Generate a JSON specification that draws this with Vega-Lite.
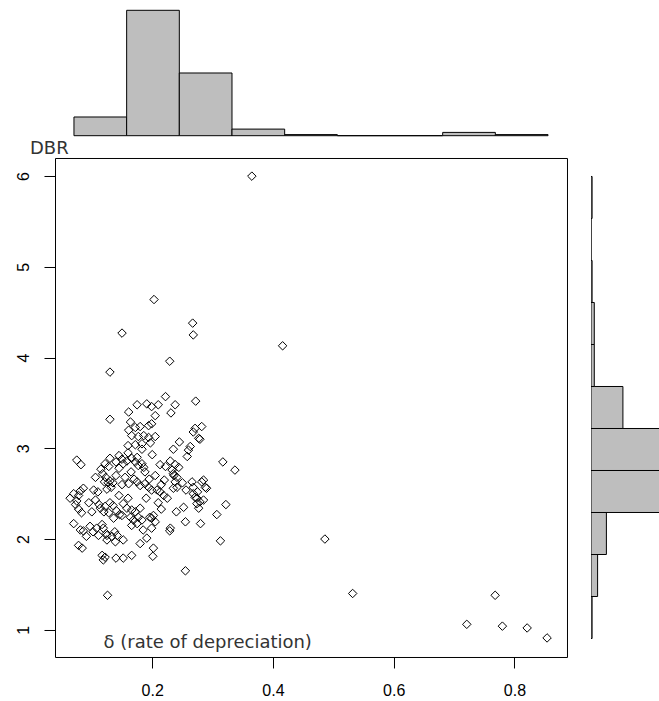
{
  "$schema": "https://vega.github.io/schema/vega-lite/v6.json",
  "padding": {"left": 14, "top": 3.7, "right": 0, "bottom": 0},
  "background": "white",
  "columns": 2,
  "spacing": {"row": 22.3, "column": 24},
  "bounds": "flush",
  "datasets": {
    "hx": [
      {"lo": 0.0, "hi": 0.1, "n": 17},
      {"lo": 0.1, "hi": 0.2, "n": 114},
      {"lo": 0.2, "hi": 0.3, "n": 57},
      {"lo": 0.3, "hi": 0.4, "n": 6},
      {"lo": 0.4, "hi": 0.5, "n": 1},
      {"lo": 0.5, "hi": 0.6, "n": 0},
      {"lo": 0.6, "hi": 0.7, "n": 0},
      {"lo": 0.7, "hi": 0.8, "n": 3},
      {"lo": 0.8, "hi": 0.9, "n": 1}
    ],
    "hy": [
      {"lo": 0.5, "hi": 1.0, "n": 1},
      {"lo": 1.0, "hi": 1.5, "n": 6},
      {"lo": 1.5, "hi": 2.0, "n": 14},
      {"lo": 2.0, "hi": 2.5, "n": 72},
      {"lo": 2.5, "hi": 3.0, "n": 70},
      {"lo": 3.0, "hi": 3.5, "n": 29},
      {"lo": 3.5, "hi": 4.0, "n": 3},
      {"lo": 4.0, "hi": 4.5, "n": 3},
      {"lo": 4.5, "hi": 5.0, "n": 1},
      {"lo": 5.0, "hi": 5.5, "n": 0},
      {"lo": 5.5, "hi": 6.0, "n": 1}
    ],
    "pts": [
      {"delta": 0.365, "DBR": 6.00}, {"delta": 0.203, "DBR": 4.64}, {"delta": 0.267, "DBR": 4.38}, {"delta": 0.268, "DBR": 4.25},
      {"delta": 0.150, "DBR": 4.27}, {"delta": 0.416, "DBR": 4.13}, {"delta": 0.229, "DBR": 3.96}, {"delta": 0.130, "DBR": 3.84},
      {"delta": 0.222, "DBR": 3.57}, {"delta": 0.272, "DBR": 3.52}, {"delta": 0.486, "DBR": 2.00}, {"delta": 0.532, "DBR": 1.40},
      {"delta": 0.721, "DBR": 1.06}, {"delta": 0.768, "DBR": 1.38}, {"delta": 0.780, "DBR": 1.04}, {"delta": 0.821, "DBR": 1.02},
      {"delta": 0.854, "DBR": 0.91}, {"delta": 0.126, "DBR": 1.38}, {"delta": 0.255, "DBR": 1.65},
      {"delta": 0.175, "DBR": 3.48}, {"delta": 0.191, "DBR": 3.49}, {"delta": 0.199, "DBR": 3.46}, {"delta": 0.210, "DBR": 3.48},
      {"delta": 0.238, "DBR": 3.48}, {"delta": 0.161, "DBR": 3.40}, {"delta": 0.205, "DBR": 3.36}, {"delta": 0.231, "DBR": 3.39},
      {"delta": 0.130, "DBR": 3.32}, {"delta": 0.164, "DBR": 3.29}, {"delta": 0.172, "DBR": 3.23}, {"delta": 0.180, "DBR": 3.24},
      {"delta": 0.194, "DBR": 3.25}, {"delta": 0.199, "DBR": 3.27}, {"delta": 0.161, "DBR": 3.20}, {"delta": 0.271, "DBR": 3.22},
      {"delta": 0.282, "DBR": 3.24}, {"delta": 0.268, "DBR": 3.18}, {"delta": 0.166, "DBR": 3.14}, {"delta": 0.177, "DBR": 3.13},
      {"delta": 0.186, "DBR": 3.14}, {"delta": 0.194, "DBR": 3.12}, {"delta": 0.205, "DBR": 3.13}, {"delta": 0.277, "DBR": 3.11},
      {"delta": 0.279, "DBR": 3.10}, {"delta": 0.245, "DBR": 3.07}, {"delta": 0.160, "DBR": 3.03}, {"delta": 0.172, "DBR": 3.04},
      {"delta": 0.183, "DBR": 3.05}, {"delta": 0.197, "DBR": 3.06}, {"delta": 0.263, "DBR": 3.02},
      {"delta": 0.235, "DBR": 2.99}, {"delta": 0.260, "DBR": 2.98}, {"delta": 0.258, "DBR": 2.91}, {"delta": 0.183, "DBR": 2.99},
      {"delta": 0.075, "DBR": 2.87}, {"delta": 0.082, "DBR": 2.82}, {"delta": 0.130, "DBR": 2.89}, {"delta": 0.122, "DBR": 2.83},
      {"delta": 0.150, "DBR": 2.88}, {"delta": 0.152, "DBR": 2.83}, {"delta": 0.158, "DBR": 2.86}, {"delta": 0.166, "DBR": 2.89},
      {"delta": 0.172, "DBR": 2.85}, {"delta": 0.177, "DBR": 2.81}, {"delta": 0.183, "DBR": 2.83}, {"delta": 0.175, "DBR": 2.90},
      {"delta": 0.188, "DBR": 2.74}, {"delta": 0.186, "DBR": 2.79}, {"delta": 0.213, "DBR": 2.82}, {"delta": 0.222, "DBR": 2.80},
      {"delta": 0.230, "DBR": 2.86}, {"delta": 0.238, "DBR": 2.82}, {"delta": 0.244, "DBR": 2.79}, {"delta": 0.235, "DBR": 2.72},
      {"delta": 0.241, "DBR": 2.68}, {"delta": 0.317, "DBR": 2.85}, {"delta": 0.337, "DBR": 2.76}, {"delta": 0.233, "DBR": 2.76},
      {"delta": 0.236, "DBR": 2.70}, {"delta": 0.106, "DBR": 2.68}, {"delta": 0.118, "DBR": 2.72}, {"delta": 0.123, "DBR": 2.68},
      {"delta": 0.130, "DBR": 2.64}, {"delta": 0.127, "DBR": 2.62}, {"delta": 0.132, "DBR": 2.57}, {"delta": 0.121, "DBR": 2.63},
      {"delta": 0.135, "DBR": 2.62}, {"delta": 0.155, "DBR": 2.68}, {"delta": 0.161, "DBR": 2.61}, {"delta": 0.175, "DBR": 2.63},
      {"delta": 0.180, "DBR": 2.59}, {"delta": 0.188, "DBR": 2.61}, {"delta": 0.194, "DBR": 2.57}, {"delta": 0.199, "DBR": 2.54},
      {"delta": 0.208, "DBR": 2.54}, {"delta": 0.213, "DBR": 2.52}, {"delta": 0.238, "DBR": 2.63}, {"delta": 0.235, "DBR": 2.56},
      {"delta": 0.241, "DBR": 2.57}, {"delta": 0.256, "DBR": 2.54}, {"delta": 0.266, "DBR": 2.63}, {"delta": 0.268, "DBR": 2.57},
      {"delta": 0.282, "DBR": 2.63}, {"delta": 0.288, "DBR": 2.57}, {"delta": 0.290, "DBR": 2.56}, {"delta": 0.285, "DBR": 2.65},
      {"delta": 0.086, "DBR": 2.56}, {"delta": 0.081, "DBR": 2.53}, {"delta": 0.103, "DBR": 2.54}, {"delta": 0.125, "DBR": 2.55},
      {"delta": 0.140, "DBR": 2.70}, {"delta": 0.145, "DBR": 2.78}, {"delta": 0.165, "DBR": 2.74}, {"delta": 0.170, "DBR": 2.66},
      {"delta": 0.195, "DBR": 2.66}, {"delta": 0.205, "DBR": 2.70}, {"delta": 0.215, "DBR": 2.60}, {"delta": 0.150, "DBR": 2.60},
      {"delta": 0.115, "DBR": 2.77}, {"delta": 0.128, "DBR": 2.80}, {"delta": 0.140, "DBR": 2.85}, {"delta": 0.160, "DBR": 2.95},
      {"delta": 0.200, "DBR": 2.93}, {"delta": 0.145, "DBR": 2.92}, {"delta": 0.220, "DBR": 2.65}, {"delta": 0.250, "DBR": 2.62},
      {"delta": 0.275, "DBR": 2.52}, {"delta": 0.110, "DBR": 2.52},
      {"delta": 0.219, "DBR": 2.48}, {"delta": 0.268, "DBR": 2.50}, {"delta": 0.274, "DBR": 2.45}, {"delta": 0.279, "DBR": 2.41},
      {"delta": 0.285, "DBR": 2.43}, {"delta": 0.064, "DBR": 2.45}, {"delta": 0.070, "DBR": 2.50}, {"delta": 0.075, "DBR": 2.42},
      {"delta": 0.078, "DBR": 2.48}, {"delta": 0.073, "DBR": 2.38}, {"delta": 0.078, "DBR": 2.33}, {"delta": 0.083, "DBR": 2.29},
      {"delta": 0.106, "DBR": 2.43}, {"delta": 0.112, "DBR": 2.38}, {"delta": 0.114, "DBR": 2.34}, {"delta": 0.122, "DBR": 2.36},
      {"delta": 0.120, "DBR": 2.30}, {"delta": 0.128, "DBR": 2.29}, {"delta": 0.130, "DBR": 2.40}, {"delta": 0.135, "DBR": 2.37},
      {"delta": 0.141, "DBR": 2.31}, {"delta": 0.146, "DBR": 2.27}, {"delta": 0.152, "DBR": 2.39}, {"delta": 0.158, "DBR": 2.34},
      {"delta": 0.166, "DBR": 2.32}, {"delta": 0.172, "DBR": 2.30}, {"delta": 0.177, "DBR": 2.24}, {"delta": 0.183, "DBR": 2.21},
      {"delta": 0.164, "DBR": 2.24}, {"delta": 0.169, "DBR": 2.21}, {"delta": 0.175, "DBR": 2.17}, {"delta": 0.166, "DBR": 2.15},
      {"delta": 0.180, "DBR": 2.34}, {"delta": 0.199, "DBR": 2.23}, {"delta": 0.205, "DBR": 2.19}, {"delta": 0.230, "DBR": 2.12},
      {"delta": 0.255, "DBR": 2.19}, {"delta": 0.280, "DBR": 2.17}, {"delta": 0.070, "DBR": 2.17}, {"delta": 0.081, "DBR": 2.10},
      {"delta": 0.091, "DBR": 2.03}, {"delta": 0.097, "DBR": 2.14}, {"delta": 0.102, "DBR": 2.08}, {"delta": 0.108, "DBR": 2.12},
      {"delta": 0.111, "DBR": 2.04}, {"delta": 0.124, "DBR": 2.06}, {"delta": 0.133, "DBR": 2.03}, {"delta": 0.138, "DBR": 2.08},
      {"delta": 0.271, "DBR": 2.46}, {"delta": 0.274, "DBR": 2.39}, {"delta": 0.277, "DBR": 2.34}, {"delta": 0.252, "DBR": 2.35},
      {"delta": 0.322, "DBR": 2.38}, {"delta": 0.307, "DBR": 2.27}, {"delta": 0.229, "DBR": 2.09}, {"delta": 0.202, "DBR": 2.26},
      {"delta": 0.199, "DBR": 2.12}, {"delta": 0.196, "DBR": 2.24}, {"delta": 0.136, "DBR": 2.23}, {"delta": 0.150, "DBR": 2.26},
      {"delta": 0.117, "DBR": 2.16}, {"delta": 0.119, "DBR": 2.12}, {"delta": 0.086, "DBR": 2.09}, {"delta": 0.125, "DBR": 2.04},
      {"delta": 0.142, "DBR": 2.04}, {"delta": 0.190, "DBR": 2.45}, {"delta": 0.210, "DBR": 2.40}, {"delta": 0.225, "DBR": 2.45},
      {"delta": 0.160, "DBR": 2.45}, {"delta": 0.145, "DBR": 2.48}, {"delta": 0.095, "DBR": 2.40}, {"delta": 0.100, "DBR": 2.30},
      {"delta": 0.185, "DBR": 2.10}, {"delta": 0.240, "DBR": 2.30}, {"delta": 0.215, "DBR": 2.33}, {"delta": 0.191, "DBR": 2.01},
      {"delta": 0.078, "DBR": 1.93}, {"delta": 0.084, "DBR": 1.90}, {"delta": 0.125, "DBR": 1.99}, {"delta": 0.139, "DBR": 1.97},
      {"delta": 0.152, "DBR": 1.99}, {"delta": 0.180, "DBR": 1.95}, {"delta": 0.202, "DBR": 1.90}, {"delta": 0.117, "DBR": 1.82},
      {"delta": 0.122, "DBR": 1.80}, {"delta": 0.119, "DBR": 1.77}, {"delta": 0.140, "DBR": 1.79}, {"delta": 0.152, "DBR": 1.79},
      {"delta": 0.166, "DBR": 1.82}, {"delta": 0.201, "DBR": 1.81}, {"delta": 0.313, "DBR": 1.98}
    ]
  },
  "concat": [
    {
      "width": 512,
      "height": 132,
      "data": {"name": "hx"},
      "mark": {"type": "rect", "fill": "#bebebe", "stroke": "black", "strokeWidth": 1},
      "encoding": {
        "x": {"field": "lo", "type": "quantitative", "scale": {"domain": [-0.036, 0.936], "nice": false, "zero": false}, "axis": null},
        "x2": {"field": "hi"},
        "y": {"field": "n", "type": "quantitative", "scale": {"domain": [0, 120], "nice": false}, "axis": null},
        "y2": {"datum": 0}
      }
    },
    {
      "width": 69,
      "height": 132,
      "data": {"values": [{"k": 0}]},
      "mark": {"type": "point", "opacity": 0}
    },
    {
      "width": 512,
      "height": 499,
      "view": {"stroke": "black", "strokeWidth": 1},
      "data": {"name": "pts"},
      "mark": {"type": "point", "shape": "diamond", "size": 72, "filled": false, "stroke": "black", "strokeWidth": 1, "opacity": 1},
      "encoding": {
        "x": {
          "field": "delta", "type": "quantitative",
          "scale": {"domain": [0.039, 0.887], "nice": false, "zero": false},
          "axis": {
            "values": [0.2, 0.4, 0.6, 0.8], "format": ".1f", "labelPadding": 15, "labelOverlap": false, "labelFlush": false,
            "title": "δ (rate of depreciation)", "titleX": 48, "titleY": -9, "titleAlign": "left", "titleBaseline": "alphabetic", "titleAngle": 0
          }
        },
        "y": {
          "field": "DBR", "type": "quantitative",
          "scale": {"domain": [0.70, 6.2], "nice": false, "zero": false},
          "axis": {
            "values": [1, 2, 3, 4, 5, 6], "format": "d", "labelAngle": -90, "labelAlign": "center", "labelBaseline": "alphabetic",
            "labelPadding": 16, "labelOverlap": false, "labelFlush": false,
            "title": "DBR", "titleAngle": 0, "titleX": -25.5, "titleY": -4, "titleAlign": "left", "titleBaseline": "alphabetic"
          }
        }
      }
    },
    {
      "width": 69,
      "height": 499,
      "data": {"name": "hy"},
      "mark": {"type": "rect", "fill": "#bebebe", "stroke": "black", "strokeWidth": 1, "clip": true},
      "encoding": {
        "y": {"field": "lo", "type": "quantitative", "scale": {"domain": [0.28, 6.22], "nice": false, "zero": false}, "axis": null},
        "y2": {"field": "hi"},
        "x": {"field": "n", "type": "quantitative", "scale": {"domain": [0, 62.7], "nice": false}, "axis": null},
        "x2": {"datum": 0}
      }
    }
  ],
  "config": {
    "view": {"stroke": null},
    "axis": {
      "domain": false,
      "grid": false,
      "ticks": true,
      "tickColor": "black",
      "tickSize": 11,
      "tickWidth": 1,
      "labelFont": "Liberation Sans",
      "labelFontSize": 16,
      "labelColor": "black",
      "titleFont": "DejaVu Sans",
      "titleFontSize": 18,
      "titleFontWeight": "normal",
      "titleColor": "#333333"
    }
  }
}
